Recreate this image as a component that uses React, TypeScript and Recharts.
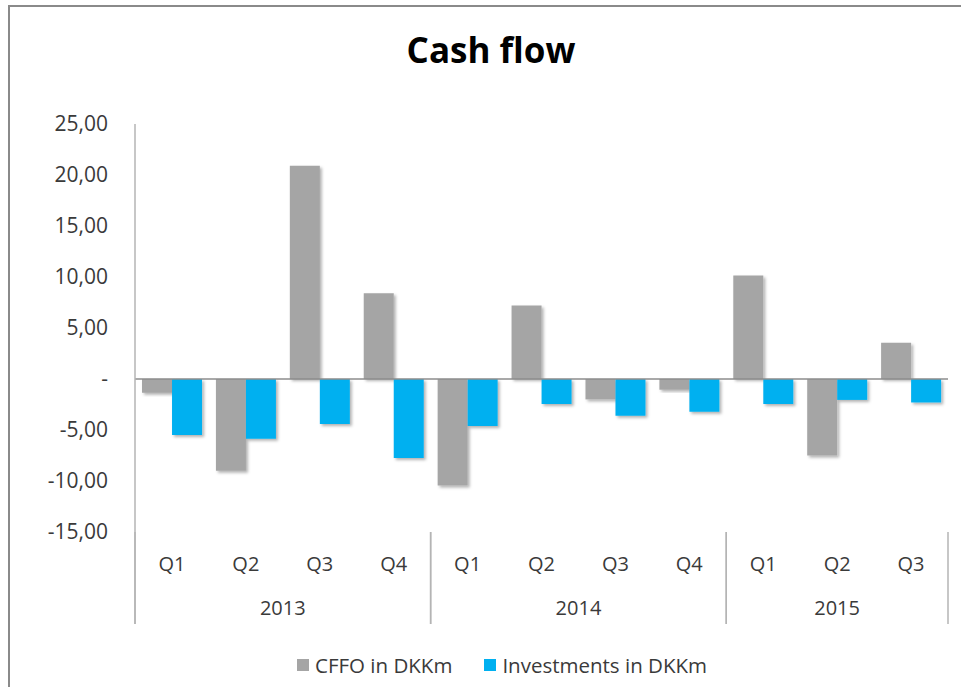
import { BarChart, Bar, XAxis, YAxis, ReferenceLine, Legend, Rectangle } from 'recharts';

const quarters = ['Q1', 'Q2', 'Q3', 'Q4', 'Q1', 'Q2', 'Q3', 'Q4', 'Q1', 'Q2', 'Q3'];
const years = ['2013', '2013', '2013', '2013', '2014', '2014', '2014', '2014', '2015', '2015', '2015'];
const cffo = [-1.35, -9.0, 20.9, 8.4, -10.45, 7.2, -2.0, -1.05, 10.15, -7.5, 3.55];
const investments = [-5.5, -5.85, -4.4, -7.75, -4.6, -2.45, -3.6, -3.2, -2.45, -2.05, -2.3];
const yTicks = [-15, -10, -5, 0, 5, 10, 15, 20, 25];

const data = quarters.map((q, i) => ({
  key: `${years[i]}-${q}`,
  quarter: q,
  year: years[i],
  cffo: cffo[i],
  investments: investments[i],
}));

const W = 961;
const H = 687;
const X_AXIS_H = 100;
const Y_AXIS_W = 70;
const margin = { top: 124, right: 13, bottom: 155 - X_AXIS_H, left: 65 };
const FONT = '"Open Sans", "Noto Sans", sans-serif';
const TEXT = '#3a3a3a';
const LINE = '#b4b4b4';
const halfBand = (W - margin.left - Y_AXIS_W - margin.right) / quarters.length / 2;
const plotBottom = H - margin.bottom - X_AXIS_H;

const fmt = (v: number) => (v === 0 ? '-' : v.toFixed(2).replace('.', ','));

const QuarterTick = (props: any) => {
  const { x, y, index } = props;
  const i = index as number;
  const yr = years[i];
  const first = i === 0 || years[i - 1] !== yr;
  const last = i === years.length - 1 || years[i + 1] !== yr;
  let yearLabel = null;
  if (first) {
    let end = i;
    while (end + 1 < years.length && years[end + 1] === yr) end++;
    const cx = x + ((i + end) / 2 - i) * 2 * halfBand;
    yearLabel = (
      <text x={cx} y={y + 75} textAnchor="middle" dominantBaseline="central" fill={TEXT} fontSize={20} fontFamily={FONT}>
        {yr}
      </text>
    );
  }
  return (
    <g>
      <text x={x} y={y + 31} textAnchor="middle" dominantBaseline="central" fill={TEXT} fontSize={20} fontFamily={FONT}>
        {quarters[i]}
      </text>
      {yearLabel}
      {first && <line x1={x - halfBand} x2={x - halfBand} y1={y} y2={y + 92} stroke={LINE} strokeWidth={1.5} />}
      {last && <line x1={x + halfBand} x2={x + halfBand} y1={y} y2={y + 92} stroke={LINE} strokeWidth={1.5} />}
    </g>
  );
};

const ShadowBar = (props: any) => <Rectangle {...props} filter="url(#barShadow)" />;

const LegendContent = (props: any) => {
  const { payload } = props;
  return (
    <div style={{ display: 'flex', justifyContent: 'center', gap: 32, fontFamily: FONT, fontSize: 20.5, color: TEXT }}>
      {(payload || []).map((p: any) => (
        <div key={p.value} style={{ display: 'flex', alignItems: 'center' }}>
          <span style={{ display: 'inline-block', width: 12, height: 12, background: p.color, marginRight: 6 }} />
          <span>{p.value}</span>
        </div>
      ))}
    </div>
  );
};

export default function App() {
  return (
    <div style={{ position: 'fixed', left: 0, top: 0, width: W, height: H, background: '#fff', overflow: 'hidden' }}>
      <div style={{ position: 'absolute', left: 8, top: 5, right: -4, bottom: -4, borderTop: '2px solid #8a8a8a', borderLeft: '2px solid #8a8a8a' }} />
      <div style={{ position: 'absolute', left: 0, top: 26, width: 982, textAlign: 'center', fontFamily: FONT, fontWeight: 700, fontSize: 35, color: '#000' }}>
        Cash flow
      </div>
      <div style={{ position: 'absolute', left: 0, top: 0 }}>
        <BarChart width={W} height={H} data={data} margin={margin} barCategoryGap="9.5%" barGap={0}>
          <defs>
            <filter id="barShadow" x="-20%" y="-20%" width="150%" height="150%">
              <feDropShadow dx={2} dy={2} stdDeviation={1.5} floodColor="#000" floodOpacity={0.3} />
            </filter>
          </defs>
          <XAxis dataKey="key" axisLine={false} tickLine={false} tickSize={0} tickMargin={0} height={X_AXIS_H} interval={0} tick={<QuarterTick />} />
          <YAxis
            width={Y_AXIS_W}
            domain={[-15, 25]}
            ticks={yTicks}
            tickFormatter={fmt}
            axisLine={{ stroke: LINE, strokeWidth: 1.5 }}
            tickLine={false}
            tickSize={0}
            tickMargin={27}
            tick={{ fill: TEXT, fontSize: 21, fontFamily: FONT }}
          />
          <Bar dataKey="cffo" name="CFFO in DKKm" fill="#a5a5a5" shape={<ShadowBar />} isAnimationActive={false} />
          <Bar dataKey="investments" name="Investments in DKKm" fill="#00b0f0" shape={<ShadowBar />} isAnimationActive={false} />
          <ReferenceLine y={0} stroke="#8c8c8c" strokeWidth={1.5} />
          <Legend verticalAlign="middle" align="center" layout="horizontal" wrapperStyle={{ top: 651, left: 0, width: 1004 }} content={<LegendContent />} />
        </BarChart>
      </div>
      <svg style={{ position: 'absolute', left: 0, top: 0, pointerEvents: 'none' }} width={W} height={H}>
        <line x1={margin.left + Y_AXIS_W} x2={margin.left + Y_AXIS_W} y1={plotBottom} y2={plotBottom + 92} stroke={LINE} strokeWidth={1.5} />
      </svg>
    </div>
  );
}
